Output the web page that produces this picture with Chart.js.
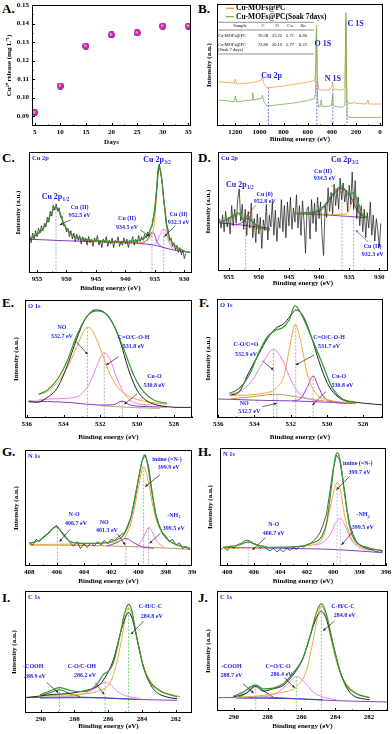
<!DOCTYPE html>
<html>
<head>
<meta charset="utf-8">
<script src="https://cdn.jsdelivr.net/npm/chart.js@4.4.1/dist/chart.umd.min.js"></script>
<style>
body { margin: 0; background: #fff; width: 392px; height: 734px; position: relative; overflow: hidden; }
canvas { position: absolute; }
.lt { position: absolute; font: bold 13px "Liberation Serif", serif; line-height: 13px; color: #000; }
</style>
</head>
<body>
<div class="lt" style="left:2px;top:2px">A.</div>
<div class="lt" style="left:198px;top:2px">B.</div>
<div class="lt" style="left:2px;top:151px">C.</div>
<div class="lt" style="left:198px;top:151px">D.</div>
<div class="lt" style="left:2px;top:296px">E.</div>
<div class="lt" style="left:199px;top:296px">F.</div>
<div class="lt" style="left:2px;top:445px">G.</div>
<div class="lt" style="left:198px;top:445px">H.</div>
<div class="lt" style="left:2px;top:591px">I.</div>
<div class="lt" style="left:198px;top:591px">J.</div>
<canvas id="cA"></canvas><canvas id="cB"></canvas>
<canvas id="cC"></canvas><canvas id="cD"></canvas>
<canvas id="cE"></canvas><canvas id="cF"></canvas>
<canvas id="cG"></canvas><canvas id="cH"></canvas>
<canvas id="cI"></canvas><canvas id="cJ"></canvas>
<script>
// ---- A: Cu2+ release ----
const days = [5, 10, 15, 20, 25, 30, 35];
const cuRelease = [0.0918, 0.1062, 0.1278, 0.1338, 0.1349, 0.1386, 0.1386];
const aTicksX = [5, 10, 15, 20, 25, 30, 35];
const aTicksY = [0.09, 0.10, 0.11, 0.12, 0.13, 0.14, 0.15];

// ---- B: survey spectra (eV, a.u.) ----
const bTicks = [1200, 1000, 800, 600, 400, 200, 0];
const bFresh = [[1346.7,36.3],[1277.4,35.8],[1208.2,35],[1199.8,38.5],[1188.8,34.4],[1111.2,35],[1028.1,36.3],[983.7,37.7],[975.4,40.4],[961.5,34.4],[939.4,31.4],[889.5,31.7],[806.4,32.8],[695.5,34.4],[584.7,36.3],[543.1,37.2],[534.8,43.2],[526.5,82.8],[518.2,37.7],[507.1,29.5],[418.4,29.5],[401.8,31.7],[393.5,36.3],[385.2,30.1],[307.6,29.5],[291,31.7],[282.6,86.9],[274.3,21.3],[263.2,18.6],[224.5,18.6],[207.8,19.9],[202.3,18.6],[113.6,18],[99.8,21.3],[91.4,18],[-11.1,18]];
const bSoaked = [[1346.7,21.3],[1277.4,20.8],[1208.2,19.9],[1199.8,24.6],[1188.8,19.9],[1111.2,20.8],[1061.3,21.3],[1055.8,27.3],[1050.2,21.3],[983.7,22.7],[975.4,25.4],[961.5,19.9],[939.4,16.4],[889.5,16.9],[806.4,17.8],[695.5,19.1],[584.7,21.3],[543.1,22.4],[534.8,26.8],[526.5,80.1],[518.2,21.3],[507.1,15.3],[496,16.4],[487.7,21.3],[479.4,15.8],[404.6,16.4],[396.3,21.3],[393.5,25.4],[388,16.4],[307.6,15.3],[291,17.2],[282.6,92.9],[274.3,9],[263.2,7.1],[-11.1,7.1]];
const bLegend = [['Cu-MOFs@PC', '#f39a3c'], ['Cu-MOFs@PC(Soak 7days)', '#72b04e']];
const tableHead = ['Sample', 'C', 'O', 'Cu', 'Zn'];
const tableRows = [['Cu-MOFs@PC', '70.38', '23.25', '5.71', '0.66'], ['Cu-MOFs@PC\n(Soak 7 days)', '73.86', '20.16', '5.77', '0.22']];

// ---- C: Cu 2p fresh ----
const cTicks = [955, 950, 945, 940, 935, 930];
const cRaw = [31,25,33,28,35,30,37,33,39,35, 41,38,46,42,51,47,56,52,57,51, 54,46,47,39,40,34,37,30,35,28,
  33,26,32,27,31,24,30,26,29,23, 30,25,28,22,29,26,31,23,27,21, 28,25,30,22,27,24,29,21,27,25,
  30,22,26,23,29,24,28,21,27,25, 30,23,28,25,31,26,30,27,32,29, 34,31,37,38,46,52,66,80,90,82,
  76,60,52,40,36,27,29,22,25,19, 23,17,21,15,19,12,16];
const cEnvelope = [[956.24,28.2],[955.57,30.1],[954.43,34.2],[953.3,41.9],[952.74,47.9],[952.17,52.9],[951.89,54.5],[951.32,52.1],[950.48,41.1],[949.34,32.9],[948.21,29.6],[946.52,27.7],[944.25,26.6],[941.43,26],[938.6,26.3],[937.47,27.4],[936.6,29.6],[936.05,32.9],[935.49,39.7],[935.09,50.7],[934.75,67.1],[934.36,88.5],[933.96,82.2],[933.5,61.6],[933.05,41.1],[932.66,31.5],[932.09,25.5],[931.24,21.4],[930.4,19.2],[929.83,17.8],[928.98,17]];
const cMain = [[956.24,27.9],[954.43,33.7],[952.74,47.1],[951.89,53.7],[951.32,51.2],[950.48,40.3],[949.34,32.1],[948.21,28.8],[946.52,26.8],[944.25,25.8],[941.43,25.2],[938.6,24.9],[937.47,25.2],[936.6,26],[936.05,27.9],[935.49,32.1],[935.09,41.1],[934.75,60.3],[934.36,87.1],[933.96,81.4],[933.5,60.3],[933.05,38.4],[932.66,28.2],[932.09,23.3],[931.24,19.7],[930.4,18.4],[929.83,17.8],[928.98,17]];
const cCu934 = [[937.47,24.1],[936.6,26],[936.05,29.3],[935.49,33.7],[935.09,32.1],[934.64,26],[934.07,22.5],[933.22,20.5]];
const cCu932 = [[935.2,22.5],[934.64,26],[934.07,32.1],[933.5,36.4],[933.05,32.9],[932.66,26],[932.09,20.5],[931.53,18.9]];
const cBackground = [[956.24,27.9],[949.9,26.6],[944.25,25.8],[938.6,24.7],[936.33,23.8],[934.64,22.5],[932.94,20.3],[931.24,18.4],[928.98,17]];

// ---- D: Cu 2p soaked ----
const dRaw = [44,36,47,33,50,37,45,31,55,38, 52,40,60,69,42,56,35,52,30,50, 36,57,28,44,24,48,31,45,19,43,
  34,56,26,47,37,58,30,51,25,45, 36,60,33,55,28,58,38,62,35,53, 41,64,36,55,30,59,42,15,52,54,
  27,60,40,57,33,62,44,58,30,13, 55,45,70,50,66,48,73,55,69,52, 78,60,74,58,68,50,72,56,83,52,
  76,44,62,38,55,33,52,28,49,36, 58,30,47,25,44,34,20,40];
const dEnvLeft = [[956.6,41.1],[955.5,43],[954.56,45.8],[954,47.5],[953.29,48.9],[952.73,43.6],[952.18,44.7],[951.63,45.8],[950.96,40.8],[949.86,36.6],[948.2,34.6]];
const dMainLeft = [[956.6,40.8],[955.5,42.5],[954.56,44.7],[954,46.1],[953.29,47.5],[952.62,43.6],[952.18,39.9],[951.24,37.2],[950.41,35.8],[949.3,35.2],[948.2,34.4]];
const dCu0 = [[953.73,38.5],[952.62,41.3],[951.8,44.1],[950.96,40.8],[949.86,37.2],[948.75,35.8]];
const dBgLeft = [[956.6,40.5],[952.62,38.5],[948.2,35.8]];
const dEnvRight = [[944.05,48.6],[941.01,49.7],[939.35,53.9],[937.69,65.1],[936.2,71.5],[935.2,64.2],[934.26,65.6],[933.54,58.1],[932.88,48.3],[931.88,45]];
const dCu934 = [[944.05,48.3],[941.01,48.9],[939.35,52.5],[937.69,63.7],[936.2,69.8],[934.92,63.7],[934.1,55.3],[933.27,48.3],[931.88,44.7]];
const dCu932 = [[944.05,48.3],[936.86,47.5],[935.48,47.8],[934.92,52.5],[934.26,60.9],[933.54,52.5],[932.88,46.4],[931.88,44.7]];
const dBgRight = [[944.05,48.3],[938.24,46.9],[931.88,44.7]];

// ---- E: O 1s fresh ----
const oTicks = [536, 534, 532, 530, 528];
const eRaw = [[535.91,13.8],[535.45,13.3],[534.91,17.2],[534.36,25.1],[533.82,43.5],[533.27,67.5],[532.82,83.9],[532.27,91.5],[531.82,90.1],[531.36,81.6],[530.91,64.7],[530.45,40.7],[530,23.7],[529.45,14.4],[528.91,11],[528.36,9.6],[527.82,9],[527,9]];
const eEnvelope = [[535.36,20.1],[534.91,23.4],[534.36,32.2],[533.82,47.7],[533.27,70.3],[532.73,85.9],[532.18,90.7],[531.73,88.7],[531.27,78.8],[530.73,59],[530.18,36.4],[529.64,22.3],[529.09,15.3],[528.36,12.4]];
const eNO = [[535.36,19.5],[534.91,22.3],[534.36,29.4],[533.82,42.1],[533.27,60.5],[532.91,73.2],[532.69,76.8],[532.45,74.6],[532,59],[531.45,36.4],[530.91,23.7],[530.18,16.7],[529.45,13.8],[528.36,11.6]];
const eCO = [[535.36,15.3],[534.73,16.1],[533.82,16.7],[533.09,19.5],[532.55,30.2],[532.09,47.7],[531.78,55.4],[531.45,49.2],[531.09,33.6],[530.64,19.5],[530.18,13.3],[529.27,11]];
const eCuO = [[535.91,14.4],[533.82,13.3],[532,11],[531.27,11.3],[530.82,14.4],[530.36,11],[529.82,9.9],[528.36,9.3]];
const eBg = [[532,10.5],[530.18,8.8],[528.73,8.2]];

// ---- F: O 1s soaked ----
const fRaw = [[535.3,19.3],[534.84,22.1],[534.29,38.9],[533.74,54.3],[533.28,66.9],[532.82,75.4],[532.36,79.6],[531.9,88],[531.72,90.8],[531.35,86.6],[530.89,69.7],[530.43,47.3],[529.97,29.1],[529.51,19.3],[528.96,14.3],[528.41,13.2],[527.86,12.3],[527.31,11.5],[526.75,10.9]];
const fEnvelope = [[535.39,20.7],[534.84,24.9],[534.29,36.1],[533.74,55.7],[533.28,68.3],[532.82,73.9],[532.45,75.9],[532.08,82.4],[531.77,94.4],[531.44,88],[530.98,72.5],[530.52,55.7],[530.15,41.7],[529.69,24.9],[529.14,16],[528.41,13.2]];
const fCOH = [[535.39,18.8],[534.47,19.3],[533.56,20.7],[532.82,24.9],[532.36,36.1],[532.03,61.3],[531.75,78.7],[531.44,64.1],[531.07,36.1],[530.61,20.7],[529.88,15.1],[528.96,13.2],[528.41,12.3]];
const fCOC = [[535.39,19.9],[534.66,23.5],[534.11,31.9],[533.56,45.9],[532.95,57.7],[532.45,48.7],[531.99,31.9],[531.53,20.7],[530.8,15.1],[529.88,13.2]];
const fCuO = [[531.9,14.3],[531.44,16.5],[531.07,26.3],[530.76,35.3],[530.47,26.3],[530.15,17.1],[529.69,13.7],[528.96,12.3]];
const fNO = [[535.39,16],[534.11,17.9],[532.82,19.9],[531.72,17.9],[530.61,15.1],[529.51,13.2]];
const fBg = [[536.04,16],[533.56,14.8],[531.72,14.3],[529.88,13.2],[528.41,12]];

// ---- G: N 1s fresh ----
const nTicks = [408, 406, 404, 402, 400, 398, 396];
const gRaw = [20,18,23,21,25,27,30,33,35,31, 28,24,20,17,21,15,19,16,20,17, 21,18,22,19,23,22,25,27,29,36,
  44,58,75,90,96,86,64,46,36,29, 26,21,23,18,20,15,17,14];
const gEnvelope = [[408,19.5],[407.22,22.4],[406.6,28.2],[406.04,33.9],[405.5,26.7],[405.01,21],[404.03,19.5],[402.8,19.5],[401.82,21.8],[401.09,26.7],[400.6,39.7],[400.11,68.4],[399.74,89.9],[399.57,95.7],[399.37,89.9],[399,62.6],[398.64,39.7],[398.15,26.7],[397.66,21],[396.92,17.2],[396.19,15.2]];
const gImine = [[408,18.1],[406.48,18.7],[404.03,19],[402.31,20.1],[401.09,23.9],[400.48,39.7],[399.99,68.4],[399.62,85.6],[399.25,71.3],[398.88,48.3],[398.39,31],[397.66,21],[396.68,16.7],[396.19,15.2]];
const gNH2 = [[400.11,16.7],[399.74,22.4],[399.45,29.6],[399.25,33.3],[399,29.6],[398.64,21],[398.15,16.7]];
const gNO = [[402.31,17.2],[401.58,20.1],[400.92,23.9],[400.35,20.1],[399.74,16.7],[398.88,15.2]];
const gBg = [[408,18.1],[402.8,17.5],[399.13,16.1],[396.19,14.4]];

// ---- H: N 1s soaked ----
const hRaw = [14,16,13,17,15,18,19,21,22,21, 19,18,15,17,14,13,15,12,14,12, 15,13,16,14,17,16,18,19,21,24,
  28,35,44,62,82,94,90,72,50,36, 27,21,18,16,15,14,14,12,13,12];
const hEnvelope = [[408.23,15.9],[407.1,17.8],[406.41,20.4],[405.73,17.8],[404.86,15.9],[402.86,16.4],[401.62,19.3],[400.87,24.9],[400.5,36.3],[400.12,67.4],[399.87,90.1],[399.7,95.8],[399.5,91.5],[399.12,61.8],[398.75,33.4],[398.38,22.1],[397.63,16.4],[396.88,14.2],[396.26,13]];
const hImine = [[408.23,15],[404.11,15.6],[401.62,17.8],[400.74,24.9],[400.25,47.6],[399.92,64.6],[399.7,70.8],[399.45,64.6],[399.12,41.9],[398.62,23.5],[397.88,16.4],[396.88,14.2],[396.26,13]];
const hNH2 = [[401.37,17.5],[400.87,19.3],[400.25,26.3],[399.75,37.7],[399.45,40.5],[399.12,34.8],[398.62,22.1],[397.88,15],[396.88,13]];
const hBg = [[408.23,15.9],[404.11,15],[400.37,14.2],[397.38,12.2],[396.26,11.3]];

// ---- I: C 1s fresh ----
const cTicks1s = [290, 288, 286, 284, 282];
const iRaw = [[290.93,12.6],[290.04,13.9],[289.25,15.3],[288.46,15.8],[287.66,17.5],[287.07,19.4],[286.48,23.5],[286.08,31.7],[285.68,44],[285.29,64.5],[284.99,78.1],[284.79,82.2],[284.59,78.1],[284.3,61.7],[283.9,37.2],[283.5,23.5],[283.11,16.7],[282.51,13.1],[281.92,11.7]];
const iEnvelope = [[290.04,14.8],[289.45,18],[288.89,20.8],[288.46,19.4],[287.86,17.5],[287.27,18],[286.67,23.5],[286.28,31.7],[285.98,34.4],[285.68,41.3],[285.29,64.5],[284.99,83.6],[284.79,89.1],[284.59,83.6],[284.3,61.7],[283.9,37.2],[283.5,24.9],[282.91,18],[282.32,14.8],[281.92,13.4]];
const iCC = [[290.04,13.9],[288.46,14.8],[287.27,15.8],[286.48,18.6],[285.88,24.9],[285.49,41.3],[285.19,61.7],[284.93,80.9],[284.79,86.3],[284.59,80.9],[284.3,61.7],[283.9,38.5],[283.5,26.2],[282.91,18.6],[282.32,15.3],[281.72,13.4]];
const iCO = [[288.46,13.9],[287.47,15.8],[286.87,19.4],[286.48,23.5],[286.18,25.4],[285.88,23.5],[285.49,18],[284.89,13.9],[284.1,12]];
const iCOOH = [[290.04,13.9],[289.45,16.5],[288.89,19],[288.3,16],[287.66,13.5]];
const iBg = [[290.93,12.6],[288.46,13.1],[286.48,12.6],[284.5,11.2],[281.92,10.4]];
const iBase = [[290.04,12.3],[287.5,12.6],[285.3,11.8],[284.3,11.2]];

// ---- J: C 1s soaked ----
const jRaw = [[290.04,11.6],[289.25,14.9],[288.7,20.4],[288.27,16.6],[287.67,18.5],[287.08,21.3],[286.69,26.8],[286.3,33.7],[285.9,44.2],[285.51,61.3],[285.11,77.9],[284.82,82.9],[284.52,76.5],[284.13,55.8],[283.73,33.7],[283.34,19.9],[282.95,13],[282.35,10.2],[281.96,9.4]];
const jEnvelope = [[290.04,12.2],[289.45,15.7],[288.7,21.8],[288.27,18.5],[287.67,19.1],[287.08,22.7],[286.69,28.2],[286.3,35.1],[285.9,44.2],[285.51,61.3],[285.11,82],[284.82,89.5],[284.52,80.7],[284.13,55.8],[283.73,33.7],[283.34,21.3],[282.75,14.4],[281.96,11]];
const jCC = [[290.04,11],[288.27,13],[287.08,15.7],[286.3,19.9],[285.7,33.7],[285.31,58.6],[285.01,80.7],[284.82,87.6],[284.56,79.3],[284.23,58.6],[283.83,36.5],[283.34,22.7],[282.75,14.9],[281.96,11]];
const jCO = [[288.27,11.6],[287.48,14.9],[286.89,21.3],[286.3,28.7],[285.8,24],[285.31,15.7],[284.72,11.6],[283.93,9.4]];
const jCOOH = [[289.84,10.8],[289.25,14.9],[288.7,21.3],[288.27,17.1],[287.67,11.6]];
const jBg = [[290.99,11],[288.27,11.6],[286.3,10.2],[284.33,8.8],[280.88,7.5]];
const jBase = [[289.84,10.8],[286.3,10.2],[284.72,9.4]];

const SERIF = '"Liberation Serif", "Times New Roman", serif';
const BLUE = '#2222e6';
const GREEN = '#2f9a2f', ORANGE = '#f7a23b', PINK = '#f27ef0', PURPLE = '#9a34c8', BGC = '#7d44c2', OLIVE = '#b8a350', DGREEN = '#1c6e1c', NAVY = '#3346c8';
const GREY = '#9a9a9a', LGREEN = '#4ad64a';
const F = s => ({ family: SERIF, size: s, weight: 'bold' });

const curve = (pts, col, w) => ({ data: pts.map(([x, y]) => ({ x, y })), borderColor: col, borderWidth: w || 1, pointRadius: 0, fill: false, tension: 0.4, cubicInterpolationMode: 'monotone' });
const sharp = (pts, col, w) => ({ data: pts.map(([x, y]) => ({ x, y })), borderColor: col, borderWidth: w || 1, pointRadius: 0, fill: false, tension: 0 });
const noisy = (start, step, vals) => ({ data: vals.map((v, i) => ({ x: start - i * step, y: v })), borderColor: '#111', borderWidth: 0.7, pointRadius: 0, fill: false, tension: 0 });

function tickMarks(ctx, s, a, horiz) {
  const v = s.ticks.map(t => t.value);
  const d = (v[1] - v[0]) / 2;
  const all = v.map(t => [t, 3]).concat(v.map(t => [t + d, 1.5]), [[v[0] - d, 1.5]]);
  const lo = Math.min(s.min, s.max), hi = Math.max(s.min, s.max);
  ctx.beginPath();
  all.forEach(([t, len]) => {
    if (t < lo || t > hi) return;
    const p = Math.round(s.getPixelForValue(t)) + 0.5;
    if (horiz) { ctx.moveTo(p, a.bottom); ctx.lineTo(p, a.bottom - len); }
    else { ctx.moveTo(a.left, p); ctx.lineTo(a.left + len, p); }
  });
  ctx.stroke();
}

const deco = {
  id: 'deco',
  beforeDatasetsDraw(chart, args, o) {
    const { ctx, chartArea: a, scales: { x, y } } = chart;
    ctx.save();
    ctx.lineWidth = 0.8;
    ctx.setLineDash([2, 1.5]);
    (o.dashes || []).forEach(([v, top, col]) => {
      const px = x.getPixelForValue(v);
      ctx.strokeStyle = col;
      ctx.beginPath();
      ctx.moveTo(px, y.getPixelForValue(top));
      ctx.lineTo(px, a.bottom);
      ctx.stroke();
    });
    ctx.restore();
  },
  afterDraw(chart, args, o) {
    const { ctx, chartArea: a, scales: { x, y } } = chart;
    ctx.save();
    ctx.strokeStyle = '#000';
    ctx.lineWidth = 1;
    ctx.strokeRect(a.left + 0.5, a.top + 0.5, a.width - 1, a.height - 1);
    tickMarks(ctx, x, a, true);
    if (o.yMarks) tickMarks(ctx, y, a, false);
    // arrows
    (o.arrows || []).forEach(([x1, y1, x2, y2, col]) => {
      const ax = x.getPixelForValue(x1), ay = y.getPixelForValue(y1);
      const bx = x.getPixelForValue(x2), by = y.getPixelForValue(y2);
      const ang = Math.atan2(by - ay, bx - ax);
      ctx.strokeStyle = ctx.fillStyle = col || '#222';
      ctx.lineWidth = 0.7;
      ctx.beginPath(); ctx.moveTo(ax, ay); ctx.lineTo(bx, by); ctx.stroke();
      ctx.beginPath();
      ctx.moveTo(bx, by);
      ctx.lineTo(bx - 3 * Math.cos(ang - 0.45), by - 3 * Math.sin(ang - 0.45));
      ctx.lineTo(bx - 3 * Math.cos(ang + 0.45), by - 3 * Math.sin(ang + 0.45));
      ctx.closePath(); ctx.fill();
    });
    // text labels
    ctx.textBaseline = 'middle';
    (o.labels || []).forEach(([t, lx, ly, size, sub]) => {
      const sz = size || 6;
      const px = x.getPixelForValue(lx), py = y.getPixelForValue(ly);
      ctx.fillStyle = BLUE;
      const main = `bold ${sz}px ${SERIF}`, small = `bold ${sz * 0.65}px ${SERIF}`;
      ctx.font = main;
      if (sub) {
        const w1 = ctx.measureText(t).width;
        ctx.font = small;
        const w2 = ctx.measureText(sub).width;
        const x0 = px - (w1 + w2) / 2;
        ctx.textAlign = 'left';
        ctx.font = main; ctx.fillText(t, x0, py);
        ctx.font = small; ctx.fillText(sub, x0 + w1 + 0.3, py + sz * 0.32);
      } else {
        ctx.textAlign = 'center';
        ctx.fillText(t, px, py);
      }
    });
    if (o.corner) {
      ctx.font = `bold 6.5px ${SERIF}`;
      ctx.fillStyle = BLUE;
      ctx.textAlign = 'left';
      ctx.fillText(o.corner, a.left + 3, a.top + 6);
    }
    ctx.restore();
  }
};

const bInset = {
  id: 'bInset',
  afterDraw(chart) {
    const { ctx, chartArea: a } = chart;
    ctx.save();
    ctx.textBaseline = 'middle';
    ctx.textAlign = 'left';
    ctx.font = `bold 7.5px ${SERIF}`;
    bLegend.forEach(([txt, col], i) => {
      const yy = a.top + 4.3 + i * 8.4;
      ctx.strokeStyle = col; ctx.lineWidth = 1.3;
      ctx.beginPath(); ctx.moveTo(a.left + 9, yy); ctx.lineTo(a.left + 17, yy); ctx.stroke();
      ctx.fillStyle = '#000';
      ctx.fillText(txt, a.left + 19, yy);
    });
    const cols = [23, 46, 60, 73, 86];
    ctx.strokeStyle = '#222'; ctx.lineWidth = 0.5;
    [18.3, 26, 50].forEach(r => {
      ctx.beginPath(); ctx.moveTo(a.left, a.top + r); ctx.lineTo(a.left + 97, a.top + r); ctx.stroke();
    });
    ctx.font = `4.5px ${SERIF}`;
    ctx.fillStyle = '#000';
    ctx.textAlign = 'center';
    tableHead.forEach((h, i) => ctx.fillText(h, a.left + cols[i], a.top + 22.3));
    tableRows.forEach((row, r) => {
      const yy = a.top + [32.3, 41.3][r];
      row.forEach((cell, i) => {
        if (i === 0) {
          ctx.textAlign = 'left';
          cell.split('\n').forEach((ln, k) => ctx.fillText(ln, a.left + 1, yy + k * 5));
          ctx.textAlign = 'center';
        } else ctx.fillText(cell, a.left + cols[i], yy);
      });
    });
    ctx.restore();
  }
};

function makeChart(id, box, area, opt) {
  const [L, T, W, H] = box;
  const c = document.getElementById(id);
  c.width = W; c.height = H;
  c.style.left = L + 'px'; c.style.top = T + 'px';
  const hasY = !!opt.yTicks;
  return new Chart(c, {
    type: opt.type || 'line',
    data: { datasets: opt.datasets },
    options: {
      responsive: false, animation: false, events: [],
      layout: { padding: { left: 0, top: area[1] - T, right: L + W - area[2], bottom: 0 } },
      plugins: { legend: { display: false }, tooltip: { enabled: false }, deco: opt.deco || {} },
      scales: {
        x: {
          type: 'linear', min: opt.x[0], max: opt.x[1], reverse: !!opt.reverse,
          grid: { display: false, drawTicks: false, tickLength: 0 }, border: { display: false },
          ticks: { font: F(7), color: '#000', padding: 2, maxRotation: 0, autoSkip: false, callback: v => String(v) },
          afterBuildTicks: s => { s.ticks = opt.xTicks.map(v => ({ value: v })); },
          afterFit: s => { s.height = T + H - area[3]; s.paddingLeft = 0; s.paddingRight = 0; },
          title: { display: true, text: opt.xTitle || 'Binding energy (eV)', font: F(7), color: '#000', padding: 0 }
        },
        y: {
          type: 'linear', min: opt.y ? opt.y[0] : 0, max: opt.y ? opt.y[1] : 100,
          grid: { display: false, drawTicks: false, tickLength: 0 }, border: { display: false },
          ticks: hasY ? { font: F(7), color: '#000', padding: 3, autoSkip: false, callback: v => v.toFixed(2) } : { display: false },
          afterBuildTicks: s => { if (hasY) s.ticks = opt.yTicks.map(v => ({ value: v })); },
          afterFit: s => { s.width = area[0] - L; s.paddingTop = 0; s.paddingBottom = 0; },
          title: { display: true, text: opt.yTitle || 'Intensity (a.u.)', font: F(7), color: '#000', padding: 0 }
        }
      }
    },
    plugins: opt.extra ? [deco, opt.extra] : [deco]
  });
}

// sphere marker for panel A
const ball = document.createElement('canvas');
ball.width = ball.height = 7;
{
  const g = ball.getContext('2d');
  const gr = g.createRadialGradient(2.8, 2.8, 0.3, 3.5, 3.5, 3.5);
  gr.addColorStop(0, '#ffc4f2'); gr.addColorStop(0.45, '#d52cb4'); gr.addColorStop(1, '#8e0a7c');
  g.fillStyle = gr; g.beginPath(); g.arc(3.5, 3.5, 3.4, 0, Math.PI * 2); g.fill();
}

makeChart('cA', [5, 0, 191, 146], [32, 5, 192, 126], {
  type: 'scatter',
  x: [4.47, 35.53], xTicks: aTicksX, y: [0.0846, 0.15], yTicks: aTicksY,
  xTitle: 'Days', yTitle: 'Cu²⁺ release (mg L⁻¹)',
  datasets: [{ data: days.map((d, i) => ({ x: d, y: cuRelease[i] })), pointStyle: ball, pointRadius: 3.5, showLine: false }],
  deco: { yMarks: true }
});

makeChart('cB', [205, 0, 187, 143], [217, 4, 383, 126], {
  x: [-25, 1352], reverse: true, xTicks: bTicks,
  datasets: [sharp(bSoaked, '#72b04e', 0.8), sharp(bFresh, '#f39a3c', 0.8)],
  deco: {
    dashes: [[925, 31.4, '#4a4aff'], [524, 37, '#4a4aff'], [391, 30, '#4a4aff'], [274, 21, '#4a4aff']],
    labels: [['Cu 2p', 900, 41, 8], ['O 1S', 474, 67, 8], ['N 1S', 391, 38.3, 8], ['C 1S', 202, 83.6, 8]]
  },
  extra: bInset
});

makeChart('cC', [14, 145, 182, 147], [29, 152, 192, 273], {
  x: [928.7, 956.36], reverse: true, xTicks: cTicks,
  datasets: [curve(cEnvelope, GREEN, 1.2), noisy(956.25, 0.25, cRaw), curve(cMain, ORANGE), curve(cCu932, PINK), curve(cCu934, PURPLE), curve(cBackground, BGC)],
  deco: {
    corner: 'Cu 2p',
    dashes: [[951.78, 53.4, GREY], [935.49, 33.7, GREY], [933.5, 36.4, GREY]],
    arrows: [[949.34, 43.8, 951.15, 39.7], [937.47, 35.6, 935.88, 30.1], [931.53, 39.2, 933.39, 30.1]],
    labels: [['Cu 2p', 951.9, 62.5, 8, '1/2'], ['Cu 2p', 934.64, 93.2, 8, '3/2'],
      ['Cu (II)', 947.76, 54], ['952.5 eV', 947.76, 47.4],
      ['Cu (II)', 939.73, 44.7], ['934.5 eV', 939.73, 37.8],
      ['Cu (II)', 930.96, 48.5], ['932.3 eV', 930.96, 41.9]]
  }
});

makeChart('cD', [204, 145, 188, 142], [218, 152, 388, 271], {
  x: [928.56, 956.77], reverse: true, xTicks: cTicks,
  datasets: [curve(dEnvLeft, GREEN, 1.2), curve(dEnvRight, GREEN, 1.2), noisy(956.5, 0.25, dRaw),
    curve(dMainLeft, ORANGE), curve(dCu932, ORANGE), curve(dCu0, PURPLE), curve(dCu934, PURPLE),
    curve(dBgLeft, BGC), curve(dBgRight, BGC)],
  deco: {
    corner: 'Cu 2p',
    dashes: [[952.18, 45, LGREEN], [936.2, 69.8, GREY], [934.26, 60.9, GREY]],
    arrows: [[950.52, 55.3, 952.07, 45.5, '#e03a2a'], [937.96, 72, 936.2, 65.1, '#e0502a'], [931.88, 24.6, 933.93, 34.4, '#8a3cc0']],
    labels: [['Cu 2p', 953.17, 72.6, 8, '1/2'], ['Cu 2p', 935.75, 93, 8, '3/2'],
      ['Cu (0)', 949.03, 64.2], ['952.8 eV', 949.03, 58.1],
      ['Cu (II)', 939.35, 83.8], ['934.5 eV', 939.07, 77.7],
      ['Cu (II)', 931.1, 20.4], ['932.3 eV', 931.1, 14]]
  }
});

makeChart('cE', [12, 295, 184, 146], [25, 300, 192, 418], {
  x: [527, 536.1], reverse: true, xTicks: oTicks,
  datasets: [curve(eEnvelope, GREEN, 1.2), curve(eRaw, '#222', 1), curve(eNO, ORANGE), curve(eCO, PINK), curve(eCuO, PURPLE), curve(eBg, OLIVE)],
  deco: {
    corner: 'O 1s',
    dashes: [[532.7, 76.8, GREY], [531.78, 55.4, GREY], [530.8, 14.4, GREY]],
    arrows: [[533.31, 64.7, 532.69, 54], [531, 52, 531.67, 44.9], [530, 20.3, 530.69, 11.6]],
    labels: [['NO', 534.09, 76.8], ['532.7 eV', 534.09, 68.9],
      ['C=O/C-O-H', 530.18, 68.4], ['531.8 eV', 530.18, 60.5],
      ['Cu-O', 529.05, 35], ['530.8 eV', 529.05, 28]]
  }
});

makeChart('cF', [204, 295, 188, 146], [217, 299, 383, 418], {
  x: [526.9, 536.07], reverse: true, xTicks: oTicks,
  datasets: [curve(fEnvelope, GREEN, 1.2), curve(fRaw, '#222', 1), curve(fCOH, ORANGE), curve(fCOC, PINK), curve(fCuO, PURPLE), curve(fNO, OLIVE), curve(fBg, BGC)],
  deco: {
    corner: 'O 1s',
    dashes: [[532.95, 57.7, GREY], [532.76, 19.9, GREY], [531.72, 78.7, GREY], [530.76, 35.3, GREY]],
    arrows: [[533.56, 48.2, 532.95, 40.3], [530.71, 52.9, 531.72, 44.5], [530.06, 22.1, 530.8, 10.9], [533.56, 9.5, 532.76, 12.3]],
    labels: [['C-O/C=O', 534.47, 61.9], ['532.9 eV', 534.47, 53.5],
      ['C=O/C-O-H', 529.88, 67.8], ['531.7 eV', 529.88, 59.9],
      ['Cu-O', 529.33, 34.7], ['530.8 eV', 529.14, 27.7],
      ['NO', 534.57, 12.3], ['532.7 eV', 534.29, 5.3]]
  }
});

makeChart('cG', [12, 443, 184, 142], [25, 450, 192, 566], {
  x: [396.07, 408.32], reverse: true, xTicks: nTicks,
  datasets: [curve(gEnvelope, GREEN, 1.2), noisy(408, 0.25, gRaw), curve(gImine, ORANGE), curve(gNH2, PINK), curve(gNO, PURPLE), curve(gBg, OLIVE)],
  deco: {
    corner: 'N 1s',
    dashes: [[405.94, 33.9, GREY], [400.92, 23.9, GREY], [399.62, 85.6, GREY], [399.25, 33.3, GREY]],
    arrows: [[405.01, 31.6, 405.79, 21], [401.53, 27.6, 400.97, 18.1], [398.44, 78.4, 399.5, 68.4], [398.39, 28.2, 399.18, 19.5]],
    labels: [['N-O', 404.72, 44.5], ['406.7 eV', 404.57, 36.8],
      ['NO', 402.51, 37.6], ['401.3 eV', 402.31, 30.5],
      ['imine (=N-)', 397.9, 92], ['399.9 eV', 397.78, 85],
      ['-NH', 397.41, 44, 6, '2'], ['399.5 eV', 397.41, 32.5]]
  }
});

makeChart('cH', [206, 443, 186, 142], [220, 448, 386, 566], {
  x: [396.0, 408.55], reverse: true, xTicks: nTicks,
  datasets: [curve(hEnvelope, GREEN, 1.2), noisy(408.5, 0.25, hRaw), curve(hImine, ORANGE), curve(hNH2, PINK), curve(hBg, BGC)],
  deco: {
    corner: 'N 1s',
    dashes: [[406.41, 20.4, '#b0b0d8'], [399.7, 70.8, '#b0b0d8'], [399.45, 40.5, '#b0b0d8']],
    arrows: [[405.11, 24.1, 406.1, 13.6], [398.75, 75.9, 399.75, 64.6], [398.5, 29.2, 399.37, 17.8]],
    labels: [['N-O', 404.49, 34.8], ['406.7 eV', 404.49, 27.2],
      ['imine (=N-)', 398.13, 86.7], ['399.7 eV', 398, 79.3],
      ['-NH', 397.75, 43.3, 6, '2'], ['399.5 eV', 397.75, 32.9]]
  }
});

makeChart('cI', [10, 588, 186, 142], [25, 591, 192, 713], {
  x: [281.03, 290.93], reverse: true, xTicks: cTicks1s,
  datasets: [curve(iEnvelope, GREEN, 1.2), curve(iRaw, '#222', 1), curve(iCC, ORANGE), curve(iCO, PINK), curve(iCOOH, DGREEN), curve(iBase, NAVY), curve(iBg, BGC)],
  deco: {
    corner: 'C 1s',
    dashes: [[288.89, 20.8, LGREEN], [286.18, 25.4, LGREEN], [284.79, 86, LGREEN]],
    arrows: [[289.64, 24.9, 288.95, 16.7], [286.77, 24.9, 286.24, 15.3], [283.9, 75.4, 284.65, 64.5]],
    labels: [['-COOH', 290.44, 38], ['288.9 eV', 290.34, 30.3],
      ['C-O/C-OH', 287.56, 38], ['286.2 eV', 287.37, 31.1],
      ['C-H/C-C', 283.5, 87.2], ['284.8 eV', 283.41, 79.5]]
  }
});

makeChart('cJ', [204, 588, 188, 142], [217, 591, 388, 711], {
  x: [280.88, 290.99], reverse: true, xTicks: cTicks1s,
  datasets: [curve(jEnvelope, GREEN, 1.2), curve(jRaw, '#222', 1), curve(jCC, ORANGE), curve(jCO, PINK), curve(jCOOH, DGREEN), curve(jBase, NAVY), curve(jBg, BGC)],
  deco: {
    corner: 'C 1s',
    dashes: [[288.7, 21.3, LGREEN], [286.3, 28.7, LGREEN], [284.82, 87.6, LGREEN]],
    arrows: [[289.45, 22.7, 288.82, 14.9], [286.99, 27.6, 286.39, 19.3], [284.03, 75.1, 284.72, 66.9]],
    labels: [['-COOH', 290.14, 37.3], ['288.7 eV', 290.14, 29.6],
      ['C=O/C-O', 287.38, 37.3], ['286.4 eV', 287.18, 30.4],
      ['C-H/C-C', 283.54, 87], ['284.8 eV', 283.44, 79.3]]
  }
});
</script>
</body>
</html>
